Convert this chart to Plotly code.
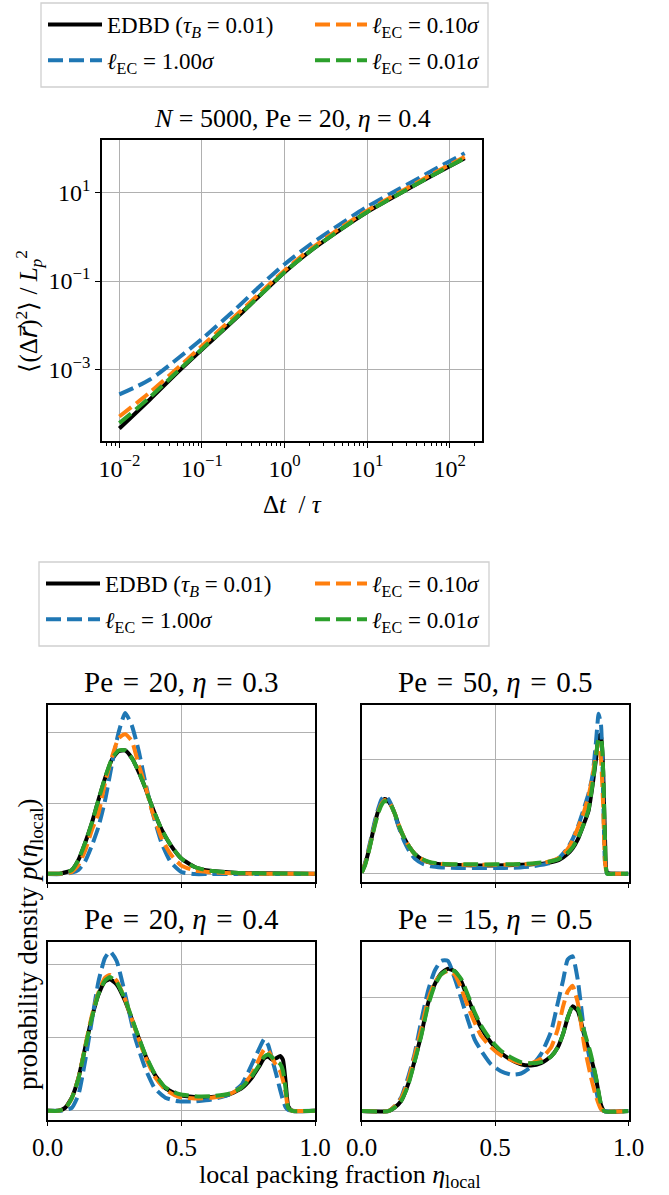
import plotly.graph_objects as go

W, H = 669, 1195

# ---------------- data: top panel (MSD) ----------------
log_dt = [-2.0, -1.63, -1.27, -1.0, -0.62, -0.3, 0.0, 0.306, 0.589, 0.99, 1.395, 1.8, 2.18]
log_msd_edbd = [-4.336, -3.68, -3.02, -2.55, -1.90, -1.33, -0.80, -0.33, 0.05, 0.55, 0.98, 1.40, 1.78]
log_msd_l100 = [-3.566, -3.23, -2.72, -2.31, -1.68, -1.12, -0.62, -0.18, 0.18, 0.67, 1.09, 1.51, 1.89]
log_msd_l010 = [-4.066, -3.52, -2.93, -2.47, -1.83, -1.28, -0.76, -0.29, 0.09, 0.58, 1.01, 1.43, 1.81]
log_msd_l001 = [-4.216, -3.63, -3.00, -2.54, -1.89, -1.33, -0.80, -0.33, 0.05, 0.55, 0.98, 1.40, 1.78]

# ---------------- data: local packing fraction distributions ----------------
# values in units of the panel's horizontal grid spacing
# Pe=20, eta=0.3
x_a = [0, 0.05, 0.09, 0.115, 0.14, 0.165, 0.19, 0.215, 0.24, 0.265, 0.29, 0.315, 0.34, 0.365,
       0.39, 0.425, 0.46, 0.5, 0.55, 0.6, 0.7, 0.8, 1.0]
a_edbd = [0.005, 0.01, 0.057, 0.2, 0.44, 0.72, 1.05, 1.36, 1.62, 1.74, 1.75, 1.64, 1.45, 1.22,
          0.96, 0.64, 0.41, 0.22, 0.10, 0.05, 0.02, 0.01, 0.005]
a_l100 = [0, 0, 0.02, 0.06, 0.18, 0.40, 0.67, 1.05, 1.55, 2.0, 2.28, 2.1, 1.75, 1.3,
          0.9, 0.45, 0.17, 0.03, 0.0, 0.0, 0.0, 0.0, 0.0]
a_l010 = [0.005, 0.005, 0.03, 0.13, 0.33, 0.62, 0.86, 1.3, 1.65, 1.92, 1.98, 1.88, 1.55, 1.25,
          0.9, 0.52, 0.28, 0.12, 0.05, 0.03, 0.01, 0.005, 0.005]
a_l001 = [0.005, 0.01, 0.055, 0.2, 0.44, 0.72, 1.05, 1.37, 1.63, 1.75, 1.75, 1.64, 1.45, 1.22,
          0.96, 0.64, 0.41, 0.22, 0.10, 0.05, 0.02, 0.01, 0.005]

# Pe=50, eta=0.5
x_b = [0, 0.012, 0.024, 0.036, 0.049, 0.062, 0.074, 0.086, 0.098, 0.11, 0.125, 0.14, 0.16, 0.18,
       0.2, 0.23, 0.26, 0.3, 0.36, 0.43, 0.5, 0.57, 0.64, 0.7, 0.74, 0.77, 0.79, 0.81, 0.83, 0.85,
       0.865, 0.878, 0.888, 0.897, 0.905, 0.912, 0.92, 0.95, 1.0]
b_edbd = [0.01, 0.08, 0.18, 0.30, 0.44, 0.55, 0.62, 0.655, 0.64, 0.6, 0.52, 0.41, 0.31, 0.23,
          0.17, 0.12, 0.095, 0.082, 0.076, 0.073, 0.073, 0.076, 0.082, 0.095, 0.12, 0.17, 0.22,
          0.30, 0.42, 0.55, 0.77, 1.0, 1.2, 1.22, 0.9, 0.3, 0.01, 0.0, 0.0]
b_l100 = [0.01, 0.09, 0.2, 0.32, 0.46, 0.57, 0.65, 0.68, 0.66, 0.61, 0.51, 0.4, 0.28, 0.19,
          0.13, 0.085, 0.065, 0.055, 0.05, 0.05, 0.05, 0.053, 0.065, 0.09, 0.14, 0.22, 0.3,
          0.41, 0.55, 0.7, 0.86, 1.15, 1.4, 1.3, 0.7, 0.1, 0.0, 0.0, 0.0]
b_l010 = [0.01, 0.08, 0.18, 0.3, 0.43, 0.54, 0.61, 0.645, 0.635, 0.6, 0.52, 0.42, 0.31, 0.23,
          0.17, 0.12, 0.097, 0.085, 0.08, 0.078, 0.078, 0.08, 0.088, 0.105, 0.14, 0.21, 0.29,
          0.4, 0.52, 0.68, 0.85, 1.05, 1.15, 1.0, 0.6, 0.1, 0.0, 0.0, 0.0]
b_l001 = [0.01, 0.07, 0.17, 0.29, 0.42, 0.53, 0.6, 0.635, 0.63, 0.6, 0.52, 0.42, 0.31, 0.23,
          0.17, 0.125, 0.1, 0.088, 0.083, 0.082, 0.082, 0.084, 0.09, 0.105, 0.13, 0.18, 0.23,
          0.31, 0.42, 0.56, 0.78, 1.02, 1.18, 1.18, 0.9, 0.3, 0.0, 0.0, 0.0]

# Pe=20, eta=0.4
x_c = [0, 0.04, 0.065, 0.09, 0.115, 0.14, 0.165, 0.19, 0.214, 0.233, 0.258, 0.29, 0.327, 0.364,
       0.4, 0.44, 0.49, 0.55, 0.613, 0.676, 0.726, 0.763, 0.79, 0.81, 0.825, 0.84, 0.855, 0.87,
       0.88, 0.89, 0.9, 0.915, 1.0]
c_edbd = [0, 0, 0.04, 0.18, 0.45, 0.86, 1.27, 1.59, 1.77, 1.8, 1.73, 1.5, 1.13, 0.77, 0.5, 0.31,
          0.22, 0.19, 0.19, 0.22, 0.31, 0.45, 0.6, 0.72, 0.74, 0.7, 0.72, 0.75, 0.7, 0.4, 0.06, 0, 0]
c_l100 = [0, 0, 0.01, 0.04, 0.22, 0.68, 1.23, 1.77, 2.09, 2.18, 2.05, 1.59, 1.0, 0.59, 0.31, 0.18,
          0.13, 0.13, 0.155, 0.22, 0.36, 0.63, 0.84, 0.98, 0.9, 0.7, 0.5, 0.28, 0.15, 0.05, 0.01, 0, 0]
c_l010 = [0, 0, 0.03, 0.17, 0.45, 0.88, 1.3, 1.62, 1.82, 1.86, 1.78, 1.52, 1.12, 0.75, 0.47, 0.29,
          0.19, 0.17, 0.18, 0.22, 0.33, 0.5, 0.7, 0.84, 0.82, 0.72, 0.62, 0.54, 0.42, 0.25, 0.03, 0, 0]
c_l001 = [0, 0, 0.03, 0.17, 0.44, 0.86, 1.27, 1.6, 1.78, 1.83, 1.76, 1.52, 1.14, 0.78, 0.51, 0.32,
          0.23, 0.2, 0.2, 0.23, 0.32, 0.47, 0.62, 0.74, 0.77, 0.73, 0.68, 0.64, 0.55, 0.3, 0.04, 0, 0]

# Pe=15, eta=0.5
x_d = [0, 0.1, 0.123, 0.148, 0.173, 0.198, 0.223, 0.248, 0.273, 0.298, 0.323, 0.348, 0.373, 0.398,
       0.423, 0.448, 0.485, 0.522, 0.56, 0.597, 0.635, 0.672, 0.71, 0.735, 0.755, 0.772, 0.79,
       0.81, 0.834, 0.859, 0.878, 0.896, 0.909, 1.0]
d_edbd = [0, 0, 0.03, 0.09, 0.23, 0.44, 0.67, 0.94, 1.11, 1.21, 1.25, 1.23, 1.14, 0.99, 0.85, 0.73,
          0.6, 0.51, 0.45, 0.41, 0.4, 0.42, 0.48, 0.56, 0.68, 0.82, 0.92, 0.88, 0.67, 0.47, 0.29,
          0.06, 0, 0]
d_l100 = [0, 0, 0.04, 0.12, 0.29, 0.5, 0.79, 1.05, 1.23, 1.32, 1.32, 1.17, 0.99, 0.8, 0.63, 0.53,
          0.41, 0.35, 0.32, 0.33, 0.39, 0.5, 0.7, 0.95, 1.15, 1.33, 1.36, 1.15, 0.7, 0.41, 0.19,
          0.02, 0, 0]
d_l010 = [0, 0, 0.04, 0.11, 0.26, 0.48, 0.72, 0.97, 1.13, 1.2, 1.23, 1.2, 1.08, 0.92, 0.78, 0.66,
          0.56, 0.49, 0.45, 0.42, 0.42, 0.46, 0.56, 0.72, 0.92, 1.05, 1.1, 0.95, 0.58, 0.3, 0.13,
          0.02, 0, 0]
d_l001 = [0, 0, 0.03, 0.09, 0.22, 0.43, 0.66, 0.92, 1.1, 1.2, 1.24, 1.23, 1.16, 1.02, 0.87, 0.75,
          0.62, 0.53, 0.47, 0.43, 0.42, 0.43, 0.48, 0.56, 0.68, 0.82, 0.92, 0.9, 0.7, 0.5, 0.3,
          0.07, 0, 0]

series_names = ["EDBD (<i>τ</i><sub><i>B</i></sub> = 0.01)",
                "<i>ℓ</i><sub>EC</sub> = 1.00<i>σ</i>",
                "<i>ℓ</i><sub>EC</sub> = 0.10<i>σ</i>",
                "<i>ℓ</i><sub>EC</sub> = 0.01<i>σ</i>"]
colors = ["#000000", "#1f77b4", "#ff7f0e", "#2ca02c"]
legend_column = [0, 0, 1, 1]      # EDBD & 1.00 in first column, 0.10 & 0.01 in second
panel_titles = ["Pe\u2004=\u200420, <i>η</i>\u2004=\u20040.3", "Pe\u2004=\u200450, <i>η</i>\u2004=\u20040.5",
                "Pe\u2004=\u200420, <i>η</i>\u2004=\u20040.4", "Pe\u2004=\u200415, <i>η</i>\u2004=\u20040.5"]
x_ticks_log = [1e-2, 1e-1, 1e0, 1e1, 1e2]
x_ticktext_log = ["10<sup>−2</sup>", "10<sup>−1</sup>", "10<sup>0</sup>", "10<sup>1</sup>", "10<sup>2</sup>"]
y_ticks_log = [1e-3, 1e-1, 1e1]
y_ticktext_log = ["10<sup>−3</sup>", "10<sup>−1</sup>", "10<sup>1</sup>"]
eta_ticks = [0.0, 0.5, 1.0]
eta_ticktext = ["0.0", "0.5", "1.0"]

FONT = "Liberation Serif"
LW = 4
DASH = "15px,6px"

fig = go.Figure()

def line_style(i):
    if i == 0:
        return dict(color=colors[i], width=LW)
    return dict(color=colors[i], width=LW, dash=DASH)

# top panel
dt = [10 ** v for v in log_dt]
msds = [log_msd_edbd, log_msd_l100, log_msd_l010, log_msd_l001]
top_legends = ["legend", "legend3"]
for i, m in enumerate(msds):
    fig.add_trace(go.Scatter(x=dt, y=[10 ** v for v in m], mode="lines", name=series_names[i],
                             line=dict(shape="spline", smoothing=0.8, **line_style(i)),
                             legend=top_legends[legend_column[i]], legendgroup="top%d" % i,
                             showlegend=True, xaxis="x", yaxis="y"))

# bottom panels
bottom_legends = ["legend2", "legend4"]
panels = [(x_a, [a_edbd, a_l100, a_l010, a_l001]),
          (x_b, [b_edbd, b_l100, b_l010, b_l001]),
          (x_c, [c_edbd, c_l100, c_l010, c_l001]),
          (x_d, [d_edbd, d_l100, d_l010, d_l001])]
for p, (xs, ys) in enumerate(panels):
    ax = str(p + 2)
    for i, yv in enumerate(ys):
        fig.add_trace(go.Scatter(x=xs, y=yv, mode="lines", name=series_names[i],
                                 line=dict(shape="spline", smoothing=0.5, **line_style(i)),
                                 legend=bottom_legends[legend_column[i]],
                                 legendgroup="bot%d_%d" % (p, i), showlegend=(p == 0),
                                 xaxis="x" + ax, yaxis="y" + ax))

def px_x(v):
    return v / W

def px_y(v):
    return 1 - v / H

def axis_common(fs):
    return dict(showline=True, mirror=True, linecolor="black", linewidth=1.5,
                gridcolor="#b0b0b0", gridwidth=1.2, zeroline=False, automargin=False,
                tickfont=dict(family=FONT, size=fs, color="black"),
                ticks="outside", ticklen=5, tickwidth=1.3, tickcolor="black")

minor_vals = [m * 10 ** k for k in range(-3, 3) for m in range(2, 10)]

def legend_box(x, y, iw):
    return dict(x=px_x(x), y=px_y(y), xanchor="left", yanchor="top", orientation="v",
                itemwidth=iw, bgcolor="rgba(0,0,0,0)", borderwidth=0,
                font=dict(family=FONT, size=23, color="black"),
                traceorder="grouped", tracegroupgap=3)

layout = dict(
    width=W, height=H, margin=dict(l=0, r=0, t=0, b=0, autoexpand=False),
    paper_bgcolor="white", plot_bgcolor="white",
    font=dict(family=FONT, size=22, color="black"),
    xaxis=dict(type="log", range=[-2.21, 2.39], domain=[px_x(102), px_x(482)],
               tickvals=x_ticks_log, ticktext=x_ticktext_log, anchor="y",
               minor=dict(tickvals=minor_vals, ticks="outside", ticklen=3, tickwidth=1,
                          tickcolor="black", showgrid=False),
               **axis_common(24)),
    yaxis=dict(type="log", range=[-4.62, 2.19], domain=[px_y(441), px_y(140)],
               tickvals=y_ticks_log, ticktext=y_ticktext_log, anchor="x",
               **axis_common(24)),
    legend=legend_box(43, 3, 54),
    legend3=legend_box(310, 3, 52),
    legend2=legend_box(41, 562, 54),
    legend4=legend_box(310, 562, 52),
    shapes=[
        dict(type="rect", xref="paper", yref="paper", x0=px_x(41), x1=px_x(488),
             y0=px_y(87), y1=px_y(3), line=dict(color="#d0d0d0", width=1.3), layer="below"),
        dict(type="rect", xref="paper", yref="paper", x0=px_x(39), x1=px_x(489),
             y0=px_y(646), y1=px_y(562), line=dict(color="#d0d0d0", width=1.3), layer="below"),
    ],
)

panel_geom = [  # (x0, x1), (y0, y1) pixel boxes and y ranges
    ((47.7, 315), (704.5, 881.5), [-0.105, 2.40]),
    ((361.7, 628.5), (704.5, 881.5), [-0.068, 1.482]),
    ((47.7, 315), (942, 1119.5), [-0.119, 2.31]),
    ((361.7, 628.5), (942, 1119.5), [-0.074, 1.485]),
]
for p, ((x0, x1), (y0, y1), yr) in enumerate(panel_geom):
    ax = str(p + 2)
    layout["xaxis" + ax] = dict(range=[0, 1], domain=[px_x(x0), px_x(x1)], anchor="y" + ax,
                               tickvals=eta_ticks, ticktext=eta_ticktext,
                               showticklabels=(p >= 2), **axis_common(25))
    yc = axis_common(25)
    yc.update(ticks="", ticklen=0)
    layout["yaxis" + ax] = dict(range=yr, domain=[px_y(y1), px_y(y0)], anchor="x" + ax,
                               tickvals=[0, 1, 2], showticklabels=False, **yc)

fig.update_layout(**layout)

ann = []
def add_text(text, x, y, size=23, angle=0, yanchor="middle"):
    ann.append(dict(text=text, x=px_x(x), y=px_y(y), xref="paper", yref="paper",
                    showarrow=False, xanchor="center", yanchor=yanchor, textangle=angle,
                    font=dict(family=FONT, size=size, color="black")))

add_text("<i>N</i> = 5000, Pe = 20, <i>η</i> = 0.4", 292, 118, 26)
add_text("Δ<i>t</i>  / <i>τ</i>", 292, 505, 25)
add_text("⟨(Δ<span style=\"font-family:'DejaVu Sans'\"><i>r⃗</i></span>)<sup>2</sup>⟩ / "
         "<i>L</i><sub><i>p</i></sub><sup>2</sup>", 28, 375, 25, -90, "bottom")
for p, ((x0, x1), (y0, y1), yr) in enumerate(panel_geom):
    add_text(panel_titles[p], (x0 + x1) / 2, y0 - 23, 29)
add_text("probability density <i>p</i>(<i>η</i><sub>local</sub>)", 30, 1092, 27, -90, "bottom")
add_text("local packing fraction <i>η</i><sub>local</sub>", 339, 1176, 26)
fig.update_layout(annotations=ann)

fig.write_html("out.html")
